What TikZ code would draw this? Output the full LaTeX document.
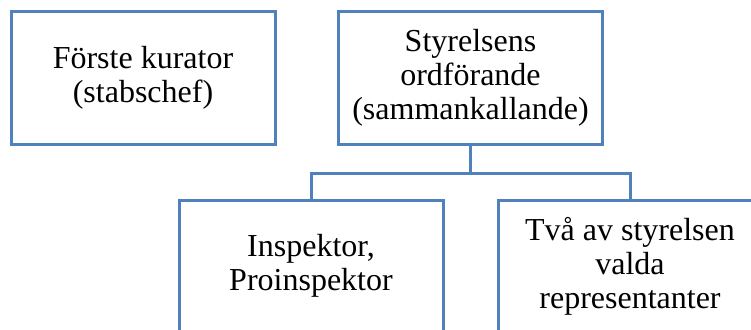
\documentclass[tikz,border=0pt]{standalone}
\usepackage{fontspec}
\setmainfont{Liberation Serif}
\definecolor{boxblue}{RGB}{79,129,189}
\begin{document}
\begin{tikzpicture}[x=1pt,y=-1pt,
  orgbox/.style={draw=boxblue,line width=3pt,rectangle,minimum width=264pt,minimum height=132pt,
    align=center,font=\fontsize{32}{34}\selectfont,inner sep=0pt},
  link/.style={draw=boxblue,line width=3pt}]
\useasboundingbox (0,0) rectangle (751,329);
\clip (0,0) rectangle (751,329);
\fill[white] (0,0) rectangle (751,329);
\node[orgbox] (b1) at (143,78) {Förste kurator\\(stabschef)};
\node[orgbox] (b2) at (470.5,78) {Styrelsens\\ordförande\\(sammankallande)};
\node[orgbox] (b3) at (311,266) {Inspektor,\\Proinspektor};
\node[orgbox] (b4) at (630,266) {Två av styrelsen\\valda\\representanter};
\draw[link] (b2.south) -- ++(0,28) coordinate (j);
\draw[link] (b3.north) |- (j) -| (b4.north);
\end{tikzpicture}
\end{document}
